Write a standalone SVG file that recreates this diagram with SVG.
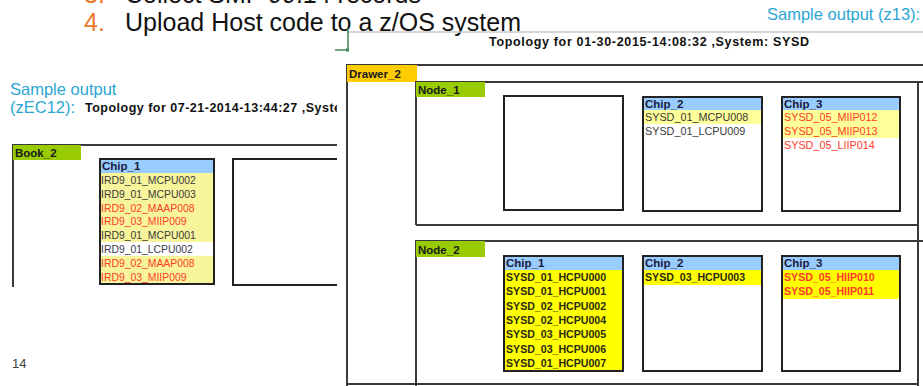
<svg xmlns="http://www.w3.org/2000/svg" width="923" height="386" viewBox="0 0 923 386">
  <style>
    .slide { font-family: "Liberation Sans", Arial, sans-serif; fill: #111; }
    .num { font-family: "Liberation Sans", Arial, sans-serif; fill: #E8782A; }
    .cap { font-family: "Liberation Sans", Arial, sans-serif; fill: #2AA6D3; }
    .title { font-family: "Liberation Sans", Arial, sans-serif; font-weight: bold; fill: #111; }
    .frame { fill: none; stroke: #3a3a3a; stroke-width: 2; }
    .chip { fill: #fff; stroke: #222; stroke-width: 2; }
    .hdr { fill: #99CCFF; }
    .pale { fill: #F8F49C; }
    .lt { fill: #FFFF99; }
    .bright { fill: #FFFF00; }
    .lbl { font-family: "Liberation Sans", Arial, sans-serif; font-weight: bold; font-size: 11.5px; fill: #1a1a1a; }
    .hl { font-family: "Liberation Sans", Arial, sans-serif; font-weight: bold; font-size: 11.5px; fill: #1a1a40; }
    .r { font-family: "Liberation Sans", Arial, sans-serif; font-size: 10.4px; }
    .r11 { font-family: "Liberation Sans", Arial, sans-serif; font-size: 10.8px; }
    .rb { font-family: "Liberation Sans", Arial, sans-serif; font-size: 10.6px; font-weight: bold; }
    .dk { fill: #3a3a3a; }
    .red { fill: #FF3A2A; }
    .olive { fill: #2a2a10; }
  </style>
  <defs>
    <clipPath id="leftShot"><rect x="0" y="60" width="337" height="326"/></clipPath>
  </defs>

  <!-- slide text -->
  <g id="slide-text">
    <text class="num" x="84" y="3" font-size="25">3.</text>
    <text class="slide" x="125" y="3" font-size="25">Collect SMF 99.14 records</text>
    <text class="num" x="84" y="31" font-size="25">4.</text>
    <text class="slide" x="125" y="31" font-size="25">Upload Host code to a z/OS system</text>
    <text class="cap" x="767" y="20" font-size="16.5">Sample output (z13):</text>
    <text class="cap" x="10" y="95" font-size="16.5">Sample output</text>
    <text class="cap" x="10" y="113" font-size="16.5">(zEC12):</text>
    <text x="12" y="368" font-family="Liberation Sans, Arial, sans-serif" font-size="13" fill="#404040">14</text>
  </g>

  <!-- handle mark and separator rule -->
  <g id="marks">
    <line x1="348" y1="32" x2="923" y2="32" stroke="#c8c8c8" stroke-width="1.5"/>
    <polyline points="348,28 348,50 335,50" fill="none" stroke="#3C8A5A" stroke-width="1.5"/>
    <rect x="346" y="48.5" width="3" height="3" fill="#3C8A5A"/>
  </g>

  <!-- zEC12 topology -->
  <g id="zec12" clip-path="url(#leftShot)">
    <text class="title" x="85" y="112" font-size="12.5" textLength="256" lengthAdjust="spacing">Topology for 07-21-2014-13:44:27 ,Syste</text>
    <g id="book2">
      <polyline class="frame" points="13,287 13,145 340,145"/>
      <rect x="13" y="145" width="68" height="15" fill="#99CC00"/>
      <text class="lbl" x="15" y="157">Book_2</text>
    </g>
    <g id="book2-chip1">
      <rect x="100" y="159" width="114" height="125" fill="#fff"/>
      <rect class="hdr" x="100" y="159" width="114" height="14"/>
      <rect class="pale" x="100" y="173" width="114" height="69"/>
      <rect class="pale" x="100" y="255.8" width="114" height="27.6"/>
      <text class="hl" x="102" y="170">Chip_1</text>
      <text class="r dk" x="101" y="184">IRD9_01_MCPU002</text>
      <text class="r dk" x="101" y="197.8">IRD9_01_MCPU003</text>
      <text class="r red" x="101" y="211.6">IRD9_02_MAAP008</text>
      <text class="r red" x="101" y="225.4">IRD9_03_MIIP009</text>
      <text class="r dk" x="101" y="239.2">IRD9_01_MCPU001</text>
      <text class="r" x="101" y="253" fill="#3a3a4e">IRD9_01_LCPU002</text>
      <text class="r red" x="101" y="266.8">IRD9_02_MAAP008</text>
      <text class="r red" x="101" y="280.6">IRD9_03_MIIP009</text>
      <rect x="100" y="159" width="114" height="125" fill="none" stroke="#222" stroke-width="2"/>
    </g>
    <g id="book2-chip2">
      <polyline points="345,159 233,159 233,285 345,285" fill="none" stroke="#222" stroke-width="2"/>
    </g>
  </g>

  <!-- z13 topology -->
  <g id="z13">
    <text class="title" x="489" y="46" font-size="12.5" textLength="320" lengthAdjust="spacing">Topology for 01-30-2015-14:08:32 ,System: SYSD</text>
    <g id="drawer2">
      <polyline class="frame" points="347,386 347,65 923,65"/>
      <line class="frame" x1="347" y1="384" x2="918" y2="384"/>
      <line class="frame" x1="918" y1="82" x2="918" y2="386"/>
      <rect x="347" y="65" width="70" height="17" fill="#FFCC00"/>
      <text class="lbl" x="349" y="78">Drawer_2</text>
    </g>

    <g id="node1">
      <polyline class="frame" points="416,225 416,82 923,82"/>
      <line class="frame" x1="416" y1="225" x2="918" y2="225"/>
      <rect x="416" y="82" width="69" height="15" fill="#99CC00"/>
      <text class="lbl" x="418" y="94">Node_1</text>
    </g>
    <g id="node1-chip1">
      <rect class="chip" x="504" y="96" width="119" height="114"/>
    </g>
    <g id="node1-chip2">
      <rect x="643" y="97" width="119" height="114" fill="#fff"/>
      <rect class="hdr" x="643" y="97" width="119" height="13"/>
      <rect class="lt" x="643" y="110" width="119" height="14"/>
      <text class="hl" x="645" y="107.5">Chip_2</text>
      <text class="r11 dk" x="645" y="121">SYSD_01_MCPU008</text>
      <text class="r11 dk" x="645" y="135">SYSD_01_LCPU009</text>
      <rect x="643" y="97" width="119" height="114" fill="none" stroke="#222" stroke-width="2"/>
    </g>
    <g id="node1-chip3">
      <rect x="782" y="97" width="118" height="114" fill="#fff"/>
      <rect class="hdr" x="782" y="97" width="118" height="13"/>
      <rect class="lt" x="782" y="110" width="118" height="28"/>
      <text class="hl" x="784" y="107.5">Chip_3</text>
      <text class="r11 red" x="784" y="121">SYSD_05_MIIP012</text>
      <text class="r11 red" x="784" y="135">SYSD_05_MIIP013</text>
      <text class="r11 red" x="784" y="149">SYSD_05_LIIP014</text>
      <rect x="782" y="97" width="118" height="114" fill="none" stroke="#222" stroke-width="2"/>
    </g>

    <g id="node2">
      <polyline class="frame" points="416,386 416,241 923,241"/>
      <rect x="416" y="241" width="69" height="16" fill="#99CC00"/>
      <text class="lbl" x="418" y="253.5">Node_2</text>
    </g>
    <g id="node2-chip1">
      <rect x="504" y="256" width="119" height="115" fill="#fff"/>
      <rect class="hdr" x="504" y="256" width="119" height="14"/>
      <rect class="bright" x="504" y="270" width="119" height="101"/>
      <text class="hl" x="506" y="267">Chip_1</text>
      <text class="rb olive" x="506" y="281">SYSD_01_HCPU000</text>
      <text class="rb olive" x="506" y="295.3">SYSD_01_HCPU001</text>
      <text class="rb olive" x="506" y="309.6">SYSD_02_HCPU002</text>
      <text class="rb olive" x="506" y="323.9">SYSD_02_HCPU004</text>
      <text class="rb olive" x="506" y="338.2">SYSD_03_HCPU005</text>
      <text class="rb olive" x="506" y="352.5">SYSD_03_HCPU006</text>
      <text class="rb olive" x="506" y="366.8">SYSD_01_HCPU007</text>
      <rect x="504" y="256" width="119" height="115" fill="none" stroke="#222" stroke-width="2"/>
    </g>
    <g id="node2-chip2">
      <rect x="643" y="256" width="119" height="115" fill="#fff"/>
      <rect class="hdr" x="643" y="256" width="119" height="14"/>
      <rect class="bright" x="643" y="270" width="119" height="15"/>
      <text class="hl" x="645" y="267">Chip_2</text>
      <text class="rb olive" x="645" y="281">SYSD_03_HCPU003</text>
      <rect x="643" y="256" width="119" height="115" fill="none" stroke="#222" stroke-width="2"/>
    </g>
    <g id="node2-chip3">
      <rect x="782" y="256" width="118" height="115" fill="#fff"/>
      <rect class="hdr" x="782" y="256" width="118" height="14"/>
      <rect class="bright" x="782" y="270" width="118" height="29"/>
      <text class="hl" x="784" y="267">Chip_3</text>
      <text class="rb red" x="784" y="281">SYSD_05_HIIP010</text>
      <text class="rb red" x="784" y="295">SYSD_05_HIIP011</text>
      <rect x="782" y="256" width="118" height="115" fill="none" stroke="#222" stroke-width="2"/>
    </g>
  </g>
</svg>
